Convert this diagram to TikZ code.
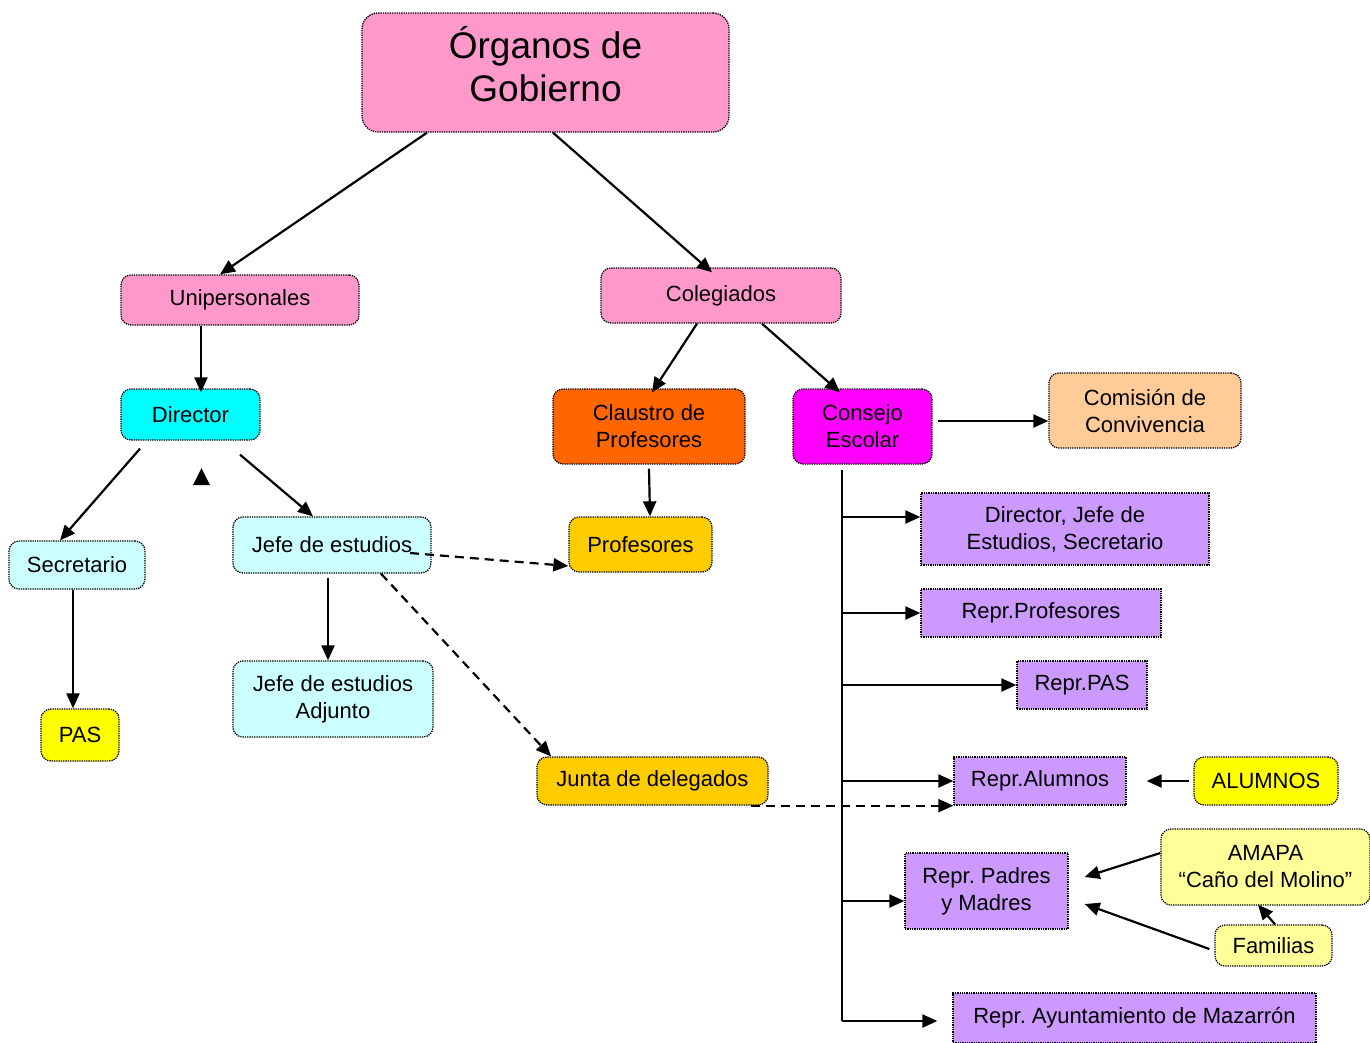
\documentclass[tikz,border=0pt]{standalone}
\usepackage{fontspec}
\setmainfont{Liberation Sans}
\usetikzlibrary{arrows.meta}
\frenchspacing

\definecolor{rosa}{HTML}{FF99CC}
\definecolor{cian}{HTML}{00FFFF}
\definecolor{cianclaro}{HTML}{CCFFFF}
\definecolor{amarillo}{HTML}{FFFF00}
\definecolor{amarilloclaro}{HTML}{FFFF99}
\definecolor{naranja}{HTML}{FF6600}
\definecolor{magenta}{HTML}{FF00FF}
\definecolor{salmon}{HTML}{FFCC99}
\definecolor{oro}{HTML}{FFCC00}
\definecolor{lila}{HTML}{CC99FF}

\newcommand{\textofont}{\fontsize{22}{27}\selectfont}
\newcommand{\titulofont}{\fontsize{37}{43}\selectfont}

\tikzset{
  caja/.style={draw=black, densely dotted, line width=1.3pt, rounded corners=10pt,
    align=center, font=\textofont, inner sep=0pt},
  cajarep/.style={caja, rounded corners=0pt, fill=lila},
  flecha/.style={-{Triangle[length=15pt,width=13pt]}, line width=2.2pt},
  flechad/.style={flecha, dash pattern=on 9pt off 6pt}
}

\begin{document}
\begin{tikzpicture}[x=1pt,y=-1pt]
\useasboundingbox (0,0) rectangle (1370,1042);

% nodos
\node[caja, fill=rosa, font=\titulofont, minimum width=367pt, minimum height=119pt, rounded corners=16pt, text depth=17pt] (org) at (545.5,72.5) {Órganos de\\Gobierno};
\node[caja, fill=rosa, minimum width=238pt, minimum height=50pt] (uni) at (240,300) {Unipersonales};
\node[caja, fill=rosa, minimum width=240pt, minimum height=55pt] (col) at (721,295.5) {Colegiados};
\node[caja, fill=cian, minimum width=139pt, minimum height=51pt] (dir) at (190.5,414.5) {Director};
\node[caja, fill=naranja, minimum width=192pt, minimum height=75pt] (cla) at (649,426.5) {Claustro de\\Profesores};
\node[caja, fill=magenta, minimum width=139pt, minimum height=75pt] (con) at (862.5,426.5) {Consejo\\Escolar};
\node[caja, fill=salmon, minimum width=192pt, minimum height=75pt] (com) at (1145,410.5) {Comisión de\\Convivencia};
\node[caja, fill=cianclaro, minimum width=136pt, minimum height=48pt] (sec) at (77,565) {Secretario};
\node[caja, fill=cianclaro, minimum width=198pt, minimum height=56pt] (jefe) at (332,545) {Jefe de estudios};
\node[caja, fill=oro, minimum width=143pt, minimum height=55pt] (prof) at (640.5,544.5) {Profesores};
\node[caja, fill=amarillo, minimum width=78pt, minimum height=52pt] (pas) at (80,735) {PAS};
\node[caja, fill=cianclaro, minimum width=200pt, minimum height=76pt] (adj) at (333,699) {Jefe de estudios\\Adjunto};
\node[caja, fill=oro, minimum width=231pt, minimum height=48pt] (junta) at (652.5,781) {Junta de delegados};

\node[cajarep, minimum width=288pt, minimum height=72pt] (rdir) at (1065,529) {Director, Jefe de\\Estudios, Secretario};
\node[cajarep, minimum width=240pt, minimum height=48pt] (rprof) at (1041,613) {Repr.Profesores};
\node[cajarep, minimum width=130pt, minimum height=48pt] (rpas) at (1082,685) {Repr.PAS};
\node[cajarep, minimum width=172pt, minimum height=48pt] (ralum) at (1040,781) {Repr.Alumnos};
\node[cajarep, minimum width=163pt, minimum height=76pt] (rpad) at (986.5,891) {Repr. Padres\\y Madres};
\node[cajarep, minimum width=363pt, minimum height=50pt] (ayu) at (1134.5,1018) {Repr. Ayuntamiento de Mazarrón};

\node[caja, fill=amarillo, minimum width=144pt, minimum height=48pt] (alum) at (1266,781) {ALUMNOS};
\node[caja, fill=amarilloclaro, minimum width=209pt, minimum height=76pt] (amapa) at (1265.5,867) {AMAPA\\“Caño del Molino”};
\node[caja, fill=amarilloclaro, minimum width=117pt, minimum height=41pt] (fam) at (1273.5,945.5) {Familias};

% conectores
\draw[flecha] ([xshift=-118.5pt]org.south) -- ([xshift=-20pt]uni.north);
\draw[flecha] ([xshift=7.5pt]org.south) -- ([xshift=-9pt,yshift=-5pt]col.north);
\draw[flecha] ([xshift=-39pt]uni.south) -- ([xshift=10.5pt,yshift=-4pt]dir.north);
\draw[flecha] ([xshift=-24pt]col.south) -- ([xshift=3pt,yshift=-4pt]cla.north);
\draw[flecha] ([xshift=41pt]col.south) -- ([xshift=-22.5pt,yshift=-4pt]con.north);
\draw[flecha] ([xshift=-50.5pt,yshift=-8pt]dir.south) -- ([xshift=-17pt]sec.north);
\draw[flecha] ([xshift=49.5pt,yshift=-14pt]dir.south) -- ([xshift=-19pt]jefe.north);
\fill (193,485) -- (210,485) -- (201.5,468) -- cycle;
\draw[flecha] ([yshift=-4pt]cla.south) -- ([xshift=9.5pt]prof.north);
\draw[flecha] ([xshift=-4pt,yshift=-4pt]jefe.south) -- ([xshift=-5pt]adj.north);
\draw[flecha] ([xshift=-4pt]sec.south) -- ([xshift=-7pt]pas.north);
\draw[flechad] ([xshift=78pt,yshift=-8pt]jefe.center) -- ([yshift=-21.5pt]prof.west);
\draw[flechad] ([xshift=49pt]jefe.south) -- ([xshift=-101.5pt]junta.north);
\draw[flechad] ([xshift=-18pt]junta.south east) -- (ralum.south west);
\draw[flecha] ([xshift=5pt,yshift=5.5pt]con.east) -- ([yshift=-10.5pt]com.west);

% Consejo Escolar
\coordinate (tronco) at (842,470);
\draw[line width=2.2pt] (tronco) -- (842,1021);
\foreach \n/\y in {rdir/517, rprof/613, rpas/685, ralum/781, rpad/901}
  \draw[flecha] (842,\y) -- (\n.west |- 842,\y);
\draw[flecha, shorten >=15pt] (842,1021) -- (ayu.west |- 842,1021);

\draw[flecha] ([xshift=-4pt]alum.west) -- ([xshift=20pt]ralum.east);
\draw[flecha] ([yshift=14pt]amapa.west) -- ([xshift=16pt,yshift=14pt]rpad.east);
\draw[flecha] ([xshift=-5pt,yshift=-3.5pt]fam.west) -- ([xshift=16pt,yshift=-13pt]rpad.east);
\draw[flecha] ([xshift=1.5pt]fam.north) -- ([xshift=-7.5pt,yshift=1pt]amapa.south);
\end{tikzpicture}
\end{document}
